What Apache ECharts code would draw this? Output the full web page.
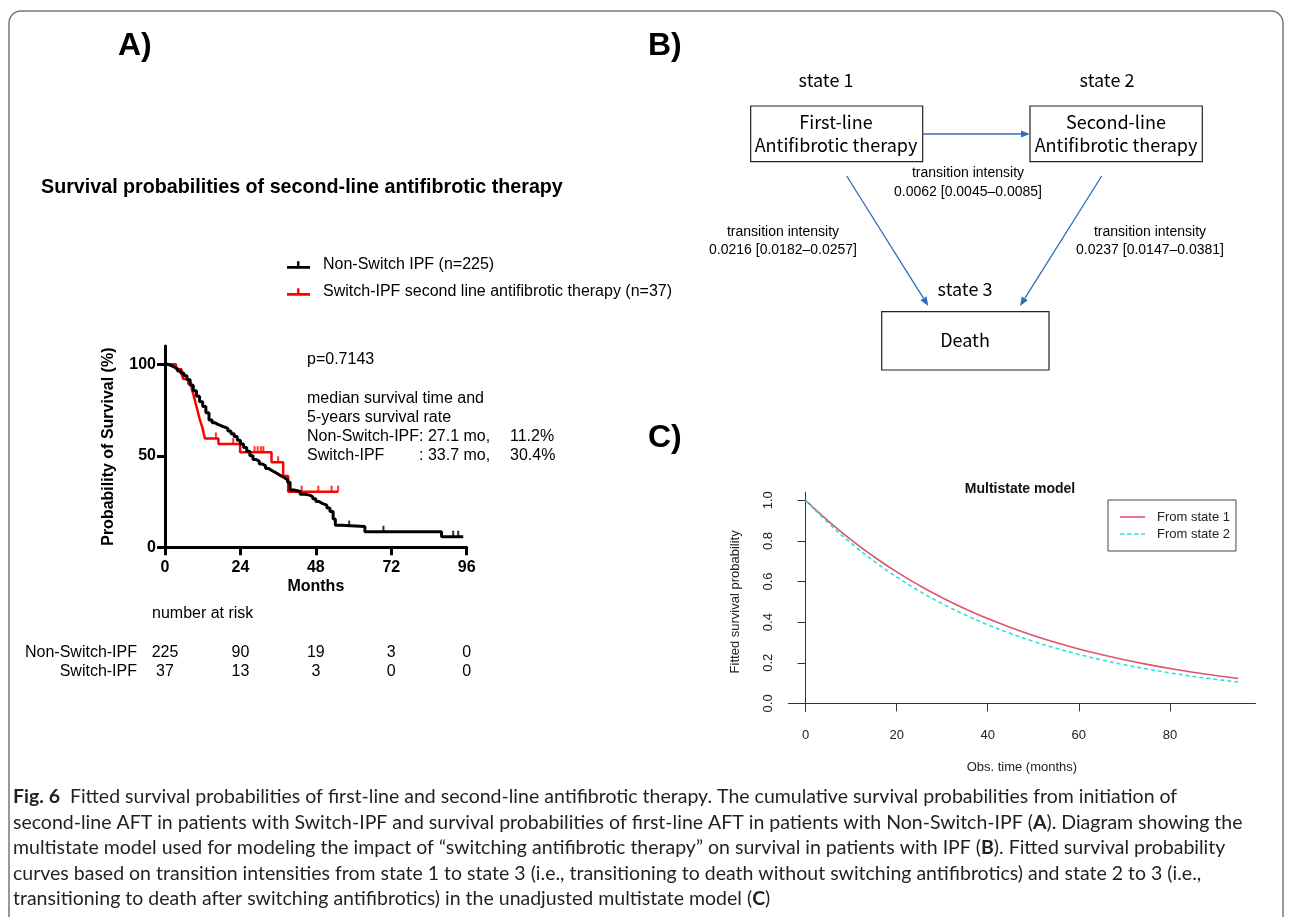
<!DOCTYPE html>
<html><head><meta charset="utf-8">
<script src="https://cdn.jsdelivr.net/npm/echarts@6/dist/echarts.min.js"></script>
<style>html,body{margin:0;padding:0;background:#fff}#c{width:1293px;height:917px}</style>
</head><body><div id="c"></div>
<script>
// ---------------- Panel A: Kaplan-Meier data ----------------
const kmTicks = [0, 24, 48, 72, 96];
const kmYTicks = [0, 50, 100];
const nonSwitchName = 'Non-Switch IPF (n=225)';
const switchName = 'Switch-IPF second line antifibrotic therapy (n=37)';
const nonSwitchTime = [0,1,2,3,4,5,6,7,8,9,10,11,12,13,14,15,16,17,18,19,20,21,22,23,24,25,26,27,28,29,30,31,32,33,34,35,36,37,38,39,39.8,41,43,44.5,46,47,48,49,50,51.5,52.5,53.5,54.2,56,63.6,88,94.9];
const nonSwitchSurv = [100,99.3,98.5,97.5,96.4,95.2,93.8,91.5,88.5,85.5,82.5,79.5,77,73.5,69.5,68,67,66.3,65.7,65,63.5,62,60.5,58.5,56.5,54.5,52.5,50,48,47,45.5,44.5,43,42,41,40,39,38,37,35.5,31.3,30.5,29,28.5,27.6,26.5,25,24,23,21.5,19.5,15.5,12,11.3,8.5,5.8,5.8];
const nonSwitchCensorTime = [58.6, 69.5, 91.7, 93.3];
const nonSwitchCensorSurv = [11.3, 8.5, 5.8, 5.8];
const switchTime = [0,3.5,5.3,5.8,7.4,8.5,9.0,9.4,9.8,10.2,10.6,11.0,11.5,12.0,12.3,12.7,17.0,23.9,33.9,37.6,39.2,55.1];
const switchSurv = [100,97.3,94.6,91.9,89.2,86.5,83.8,81.1,78.4,75.7,73.0,70.3,67.6,64.9,62.2,59.5,56.5,52,46.5,39,30.4,30.4];
const switchCensorTime = [16.2, 21.7, 28.5, 29.5, 30.5, 31.3, 36, 43.5, 48.8, 53, 55.1];
const switchCensorSurv = [59.5, 56.5, 52, 52, 52, 52, 46.5, 30.4, 30.4, 30.4, 30.4];
const riskGroups = ['Non-Switch-IPF', 'Switch-IPF'];
const riskNonSwitch = [225, 90, 19, 3, 0];
const riskSwitch = [37, 13, 3, 0, 0];
const statLines = ['p=0.7143', 'median survival time and', '5-years survival rate'];
const medianRows = [['Non-Switch-IPF', ': 27.1 mo,', '11.2%'], ['Switch-IPF', ': 33.7 mo,', '30.4%']];

// ---------------- Panel B: multistate diagram ----------------
const stateNames = ['state 1', 'state 2', 'state 3'];
const stateBoxes = ['First-line\nAntifibrotic therapy', 'Second-line\nAntifibrotic therapy', 'Death'];
const transitionLabel = 'transition intensity';
const transitions12 = '0.0062 [0.0045–0.0085]';
const transitions13 = '0.0216 [0.0182–0.0257]';
const transitions23 = '0.0237 [0.0147–0.0381]';

// ---------------- Panel C: fitted survival ----------------
const fitTime = [0,5,10,15,20,25,30,35,40,45,50,55,60,65,70,75,80,85,90,95];
const fitState1 = [1,0.8976,0.8052,0.7222,0.6476,0.5805,0.5202,0.4662,0.4175,0.3739,0.3347,0.2997,0.2681,0.2400,0.2146,0.1920,0.1717,0.1535,0.1372,0.1226];
const fitState2 = [1,0.8883,0.7890,0.7008,0.6225,0.5529,0.4911,0.4363,0.3875,0.3442,0.3057,0.2716,0.2412,0.2143,0.1903,0.1691,0.1502,0.1334,0.1185,0.1052];
const fitXTicks = [0, 20, 40, 60, 80];
const fitYTicks = [0, 0.2, 0.4, 0.6, 0.8, 1];

// ---------------- Caption ----------------
const captionLines = [
  '{b|Fig. 6}  Fitted survival probabilities of first-line and second-line antifibrotic therapy. The cumulative survival probabilities from initiation of',
  'second-line AFT in patients with Switch-IPF and survival probabilities of first-line AFT in patients with Non-Switch-IPF ({b|A}). Diagram showing the',
  'multistate model used for modeling the impact of “switching antifibrotic therapy” on survival in patients with IPF ({b|B}). Fitted survival probability',
  'curves based on transition intensities from state 1 to state 3 (i.e., transitioning to death without switching antifibrotics) and state 2 to 3 (i.e.,',
  'transitioning to death after switching antifibrotics) in the unadjusted multistate model ({b|C})'
];

const AR = "'Liberation Sans', Arial, sans-serif";
const ARN = "'Liberation Sans Narrow', 'Liberation Sans', Arial, sans-serif";
const JP = "'Noto Sans CJK JP', 'Noto Sans', sans-serif";
const CAP = "Lato, 'Noto Sans', sans-serif";

const zip = (a, b) => a.map((v, i) => [v, b[i]]);
const kmIcon = 'path://M0,5L24,5L24,8L0,8Z M10.5,0L13,0L13,5L10.5,5Z';
const solidIcon = 'path://M0,0h25v1.6h-25z';
const dashIcon = 'path://M0,0h4.5v1.6h-4.5z M7,0h4.5v1.6h-4.5z M14,0h4.5v1.6h-4.5z M21,0h4v1.6h-4z';

const chart = echarts.init(document.getElementById('c'), null, {renderer: 'canvas', width: 1293, height: 917});

const option = {
  animation: false,
  backgroundColor: '#fff',
  grid: [
    {left: 165, top: 346, width: 301.7, height: 201.3, outerBoundsMode: 'none'},
    {left: 788.3, top: 492.2, width: 467.2, height: 219.3, outerBoundsMode: 'none'}
  ],
  xAxis: [
    {gridIndex: 0, type: 'value', min: 0, max: 96, interval: 24,
     axisLine: {lineStyle: {color: '#000', width: 3}},
     axisTick: {show: true, length: 8, lineStyle: {color: '#000', width: 3}},
     axisLabel: {margin: 12, color: '#000', fontFamily: AR, fontWeight: 'bold', fontSize: 16},
     splitLine: {show: false},
     name: 'Months', nameLocation: 'middle', nameGap: 31,
     nameTextStyle: {color: '#000', fontFamily: AR, fontWeight: 'bold', fontSize: 16}},
    {gridIndex: 1, type: 'value', min: -3.8, max: 98.8,
     axisLine: {lineStyle: {color: '#333', width: 1}},
     axisTick: {show: true, length: 8, customValues: fitXTicks, lineStyle: {color: '#333', width: 1}},
     axisLabel: {customValues: fitXTicks, margin: 17, color: '#222', fontFamily: AR, fontSize: 13},
     splitLine: {show: false},
     name: 'Obs. time (months)', nameLocation: 'middle', nameGap: 49,
     nameTextStyle: {color: '#222', fontFamily: AR, fontSize: 13}}
  ],
  yAxis: [
    {gridIndex: 0, type: 'value', min: 0, max: 110,
     axisLine: {show: true, lineStyle: {color: '#000', width: 3}},
     axisTick: {show: true, length: 8, customValues: kmYTicks, lineStyle: {color: '#000', width: 3}},
     axisLabel: {customValues: kmYTicks, margin: 9, color: '#000', fontFamily: AR, fontWeight: 'bold', fontSize: 16},
     splitLine: {show: false},
     name: 'Probability of Survival (%)', nameLocation: 'middle', nameGap: 48, nameRotate: 90,
     nameTextStyle: {color: '#000', fontFamily: AR, fontWeight: 'bold', fontSize: 16}},
    {gridIndex: 1, type: 'value', min: -0.04, max: 1.04,
     axisLine: {show: true, lineStyle: {color: '#333', width: 1}},
     axisTick: {show: true, length: 8, customValues: fitYTicks, lineStyle: {color: '#333', width: 1}},
     axisLabel: {customValues: fitYTicks, rotate: 90, margin: 13, color: '#222', fontFamily: AR, fontSize: 13,
                 formatter: v => v.toFixed(1)},
     splitLine: {show: false},
     name: 'Fitted survival probability', nameLocation: 'middle', nameGap: 46, nameRotate: 90,
     nameTextStyle: {color: '#222', fontFamily: AR, fontSize: 13}}
  ],
  legend: [
    {left: 282, top: 252, orient: 'vertical', itemWidth: 23, itemHeight: 8, itemGap: 11,
     selectedMode: false,
     textStyle: {color: '#000', fontFamily: AR, fontSize: 16, lineHeight: 16, padding: [0, 0, 0, 8]},
     data: [{name: nonSwitchName, icon: kmIcon}, {name: switchName, icon: kmIcon}]},
    {left: 1108, top: 500, orient: 'vertical', itemWidth: 25, itemHeight: 1.6, itemGap: 3,
     selectedMode: false, borderColor: '#444', borderWidth: 1, padding: [10, 6, 10, 12],
     textStyle: {color: '#222', fontFamily: AR, fontSize: 13, lineHeight: 14, padding: [0, 0, 0, 7]},
     data: [{name: 'From state 1', icon: solidIcon}, {name: 'From state 2', icon: dashIcon}]}
  ],
  series: [
    {name: switchName, type: 'line', xAxisIndex: 0, yAxisIndex: 0, step: 'end', showSymbol: false, symbol: 'none',
     data: zip(switchTime, switchSurv), color: '#ff0000', itemStyle: {color: '#ff0000'},
     lineStyle: {color: '#ff0000', width: 2.5}, z: 2, silent: true},
    {name: nonSwitchName, type: 'line', xAxisIndex: 0, yAxisIndex: 0, step: 'end', showSymbol: false, symbol: 'none',
     data: zip(nonSwitchTime, nonSwitchSurv), color: '#000', itemStyle: {color: '#000'},
     lineStyle: {color: '#000', width: 3}, z: 3, silent: true},
    {name: 'Switch censored', type: 'scatter', xAxisIndex: 0, yAxisIndex: 0, symbol: 'rect',
     symbolSize: [2, 6], symbolOffset: [0, -3], itemStyle: {color: '#ff0000'},
     data: zip(switchCensorTime, switchCensorSurv), z: 2, silent: true},
    {name: 'Non-Switch censored', type: 'scatter', xAxisIndex: 0, yAxisIndex: 0, symbol: 'rect',
     symbolSize: [2, 6], symbolOffset: [0, -3], itemStyle: {color: '#000'},
     data: zip(nonSwitchCensorTime, nonSwitchCensorSurv), z: 3, silent: true},
    {name: 'From state 1', type: 'line', xAxisIndex: 1, yAxisIndex: 1, smooth: true, showSymbol: false, symbol: 'none',
     data: zip(fitTime, fitState1), color: '#DF536B', itemStyle: {color: '#DF536B'},
     lineStyle: {color: '#DF536B', width: 1.6}, silent: true},
    {name: 'From state 2', type: 'line', xAxisIndex: 1, yAxisIndex: 1, smooth: true, showSymbol: false, symbol: 'none',
     data: zip(fitTime, fitState2), color: '#28E2E5', itemStyle: {color: '#28E2E5'},
     lineStyle: {color: '#28E2E5', width: 1.6, type: [4, 3]}, silent: true}
  ]
};
chart.setOption(option);

// ----- graphic layer (texts, diagram, frame) -----
function txt(x, y, text, o) {
  return {type: 'text', x: x, y: y, silent: true,
    style: Object.assign({text: text, fill: '#000', fontFamily: AR, fontSize: 16, fontWeight: 'normal',
      align: 'left', verticalAlign: 'middle'}, o || {})};
}
function arrow(x1, y1, x2, y2, color) {
  const L = 9, W = 3.6;
  const dx = x2 - x1, dy = y2 - y1, d = Math.hypot(dx, dy);
  const ux = dx / d, uy = dy / d;
  const bx = x2 - ux * L, by = y2 - uy * L;
  return [
    {type: 'line', silent: true, shape: {x1: x1, y1: y1, x2: bx, y2: by}, style: {stroke: color, lineWidth: 1.3}},
    {type: 'polygon', silent: true, shape: {points: [[x2, y2], [bx - uy * W, by + ux * W], [bx + uy * W, by - ux * W]]},
     style: {fill: color}}
  ];
}
function box(x, y, w, h) {
  return {type: 'rect', silent: true, shape: {x: x, y: y, width: w, height: h},
    style: {fill: '#fff', stroke: '#222', lineWidth: 1.2}};
}

const g = [];
g.push({type: 'rect', silent: true, z: -10, shape: {x: 9, y: 11, width: 1274, height: 960, r: 12},
  style: {fill: 'none', stroke: '#777', lineWidth: 1.5}});
g.push(txt(118, 46, 'A)', {fontFamily: ARN, fontWeight: 'bold', fontSize: 32}));
g.push(txt(648, 46, 'B)', {fontFamily: ARN, fontWeight: 'bold', fontSize: 32}));
g.push(txt(648, 438, 'C)', {fontFamily: ARN, fontWeight: 'bold', fontSize: 32}));
g.push(txt(41, 188, 'Survival probabilities of second-line antifibrotic therapy', {fontWeight: 'bold', fontSize: 19.7}));
g.push(txt(307, 360, statLines[0]));
g.push(txt(307, 399, statLines[1]));
g.push(txt(307, 418, statLines[2]));
medianRows.forEach((r, i) => {
  const y = 437 + i * 19;
  g.push(txt(307, y, r[0]));
  g.push(txt(419, y, r[1]));
  g.push(txt(510, y, r[2]));
});
g.push(txt(152, 614, 'number at risk'));
g.push(txt(137, 653, riskGroups[0], {align: 'right'}));
g.push(txt(137, 672, riskGroups[1], {align: 'right'}));
kmTicks.forEach((t, i) => {
  const px = chart.convertToPixel({xAxisIndex: 0}, t);
  g.push(txt(px, 653, String(riskNonSwitch[i]), {align: 'center'}));
  g.push(txt(px, 672, String(riskSwitch[i]), {align: 'center'}));
});
const BLUE = '#2F6EB8';
g.push(txt(826, 80, stateNames[0], {fontFamily: JP, fontSize: 18, align: 'center'}));
g.push(txt(1107, 80, stateNames[1], {fontFamily: JP, fontSize: 18, align: 'center'}));
g.push(txt(965, 289, stateNames[2], {fontFamily: JP, fontSize: 18, align: 'center'}));
g.push(box(750.7, 106, 172, 55.7));
g.push(box(1030, 106, 172.3, 55.7));
g.push(box(881.7, 311.7, 167.3, 58.3));
g.push(txt(836, 134, stateBoxes[0], {fontFamily: JP, fontSize: 18, align: 'center', lineHeight: 23}));
g.push(txt(1116, 134, stateBoxes[1], {fontFamily: JP, fontSize: 18, align: 'center', lineHeight: 23}));
g.push(txt(965, 340, stateBoxes[2], {fontFamily: JP, fontSize: 18, align: 'center'}));
arrow(922.7, 134, 1030, 134, BLUE).forEach(e => g.push(e));
arrow(846.7, 176, 928.3, 306, BLUE).forEach(e => g.push(e));
arrow(1101.7, 176, 1020, 306, BLUE).forEach(e => g.push(e));
g.push(txt(968, 173, transitionLabel, {fontSize: 14, align: 'center'}));
g.push(txt(968, 192, transitions12, {fontSize: 14, align: 'center'}));
g.push(txt(783, 232, transitionLabel, {fontSize: 14, align: 'center'}));
g.push(txt(783, 250, transitions13, {fontSize: 14, align: 'center'}));
g.push(txt(1150, 232, transitionLabel, {fontSize: 14, align: 'center'}));
g.push(txt(1150, 250, transitions23, {fontSize: 14, align: 'center'}));
g.push(txt(1020, 489, 'Multistate model', {fontWeight: 'bold', fontSize: 14, align: 'center', fill: '#111'}));
captionLines.forEach((line, i) => {
  g.push(txt(13, 797 + i * 25.5, line, {fontFamily: CAP, fontSize: 19.5, fill: '#231f20',
    rich: {b: {fontFamily: CAP, fontSize: 19.5, fontWeight: 'bold', fill: '#231f20'}}}));
});

chart.setOption({graphic: {elements: g}});
</script>
</body></html>
